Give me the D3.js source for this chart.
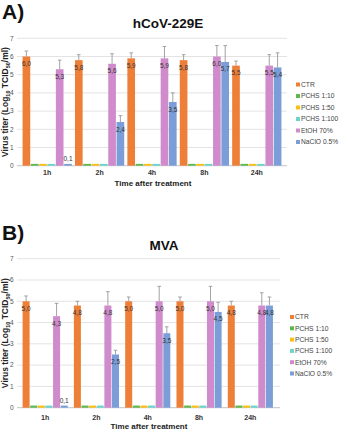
<!DOCTYPE html>
<html>
<head>
<meta charset="utf-8">
<script src="https://cdn.jsdelivr.net/npm/d3@7/dist/d3.min.js"></script>
<style>
  body { margin: 0; background: #fff; }
  svg { display: block; font-family: "Liberation Sans", Arial, sans-serif; }
</style>
</head>
<body>
<svg id="chart" width="339" height="429"></svg>
<script>
// categories and series
const timePoints = ['1h', '2h', '4h', '8h', '24h'];
const treatments = ['CTR', 'PCHS 1:10', 'PCHS 1:50', 'PCHS 1:100', 'EtOH 70%', 'NaClO 0.5%'];
const treatmentColors = ['#EE7F38', '#5DB84E', '#F9BF15', '#6AD4CF', '#CF8BCB', '#7B9ED8'];
const yTicks = [0, 1, 2, 3, 4, 5, 6, 7];
// which series get a value label
const labelled = [true, false, false, false, true, true];

// A) hCoV-229E, one row per treatment
const hcovValues = [
  [6.0, 5.8, 5.9, 5.8, 5.5],
  [0.1, 0.1, 0.1, 0.1, 0.1],
  [0.1, 0.1, 0.1, 0.1, 0.1],
  [0.1, 0.1, 0.1, 0.1, 0.1],
  [5.3, 5.6, 5.9, 6.0, 5.5],
  [0.1, 2.4, 3.5, 5.7, 5.4]
];
const hcovErrors = [
  [0.3, 0.3, 0.3, 0.3, 0.25],
  [0, 0, 0, 0, 0],
  [0, 0, 0, 0, 0],
  [0, 0, 0, 0, 0],
  [0.5, 0.55, 0.65, 0.6, 0.6],
  [0, 0.35, 0.5, 0.9, 0.8]
];

// B) MVA
const mvaValues = [
  [5.0, 4.8, 5.0, 5.0, 4.8],
  [0.1, 0.1, 0.1, 0.1, 0.1],
  [0.1, 0.1, 0.1, 0.1, 0.1],
  [0.1, 0.1, 0.1, 0.1, 0.1],
  [4.3, 4.8, 5.0, 5.0, 4.8],
  [0.1, 2.5, 3.5, 4.5, 4.8]
];
const mvaErrors = [
  [0.25, 0.2, 0.2, 0.2, 0.2],
  [0, 0, 0, 0, 0],
  [0, 0, 0, 0, 0],
  [0, 0, 0, 0, 0],
  [0.6, 0.65, 0.7, 0.7, 0.6],
  [0, 0.2, 0.3, 0.45, 0.4]
];

const svg = d3.select('#chart');
const fmt = v => d3.format('.1f')(v).replace('.', ',');

var drawPanel = function (p) {
  const g = svg.append('g');

  const y = d3.scaleLinear().domain([0, 7]).range([p.bottom, p.top]);
  const x0 = d3.scaleBand().domain(timePoints)
    .range([p.left, p.right]).paddingInner(p.groupPad).paddingOuter(p.groupPad / 2);
  const x1 = d3.scaleBand().domain(d3.range(treatments.length))
    .range([0, x0.bandwidth()]).paddingInner(p.barPad);

  // panel letter and title
  g.append('text').attr('x', 2).attr('y', p.letterY)
    .attr('font-size', 21).attr('font-weight', 'bold').attr('fill', '#111')
    .text(p.letter);
  g.append('text').attr('x', p.titleX).attr('y', p.titleY)
    .attr('text-anchor', 'middle').attr('font-size', 13.5).attr('font-weight', 'bold')
    .attr('fill', '#111').text(p.title);

  // grid + y ticks
  g.selectAll('.grid').data(yTicks).enter().append('line')
    .attr('x1', 17).attr('x2', p.gridEnd)
    .attr('y1', d => y(d)).attr('y2', d => y(d))
    .attr('stroke', d => d === 0 ? '#c4c4c4' : '#e3e3e3').attr('stroke-width', 1);
  g.selectAll('.ytick').data(yTicks).enter().append('text')
    .attr('x', 13.5).attr('y', d => y(d) + 2.3)
    .attr('text-anchor', 'end').attr('font-size', 6.5).attr('fill', '#555')
    .text(d => d);

  // y axis title
  const yt = g.append('text')
    .attr('transform', 'translate(8,' + ((p.top + p.bottom) / 2) + ') rotate(-90)')
    .attr('text-anchor', 'middle').attr('font-size', 8.5).attr('font-weight', 'bold').attr('fill', '#222');
  yt.append('tspan').text('Virus titer (Log');
  yt.append('tspan').attr('font-size', 5.5).attr('dy', 2).text('10');
  yt.append('tspan').attr('dy', -2).text(' TCID');
  yt.append('tspan').attr('font-size', 5.5).attr('dy', 2).text('50');
  yt.append('tspan').attr('dy', -2).text('/ml)');

  // bars
  const cells = [];
  treatments.forEach((t, si) => {
    timePoints.forEach((tp, ti) => {
      cells.push({ si: si, tp: tp, v: p.values[si][ti], e: p.errors[si][ti] });
    });
  });
  const bx = d => x0(d.tp) + x1(d.si);
  const bw = x1.bandwidth();

  g.selectAll('.bar').data(cells).enter().append('rect')
    .attr('x', bx).attr('width', bw)
    .attr('y', d => y(d.v)).attr('height', d => y(0) - y(d.v))
    .attr('fill', d => treatmentColors[d.si]);

  // error bars
  const errs = cells.filter(d => d.e > 0);
  g.selectAll('.err').data(errs).enter().append('line')
    .attr('x1', d => bx(d) + bw / 2).attr('x2', d => bx(d) + bw / 2)
    .attr('y1', d => y(d.v)).attr('y2', d => y(d.v + d.e))
    .attr('stroke', '#999').attr('stroke-width', 0.9);
  g.selectAll('.cap').data(errs).enter().append('line')
    .attr('x1', d => bx(d) + bw / 2 - 1.8).attr('x2', d => bx(d) + bw / 2 + 1.8)
    .attr('y1', d => y(d.v + d.e)).attr('y2', d => y(d.v + d.e))
    .attr('stroke', '#999').attr('stroke-width', 0.9);

  // value labels
  g.selectAll('.lbl').data(cells.filter(d => labelled[d.si])).enter().append('text')
    .attr('x', d => bx(d) + bw / 2)
    .attr('y', d => d.v < 0.5 ? y(d.v) - 2.5 : y(d.v) + 9.5)
    .attr('text-anchor', 'middle').attr('font-size', 6.5).attr('fill', '#333')
    .text(d => fmt(d.v));

  // category labels
  g.selectAll('.xlab').data(timePoints).enter().append('text')
    .attr('x', d => x0(d) + x0.bandwidth() / 2).attr('y', p.xLabelY)
    .attr('text-anchor', 'middle').attr('font-size', 7).attr('font-weight', 'bold').attr('fill', '#333')
    .text(d => d);
  g.append('text').attr('x', p.axisTitleX).attr('y', p.axisTitleY)
    .attr('text-anchor', 'middle').attr('font-size', 8).attr('font-weight', 'bold').attr('fill', '#222')
    .text('Time after treatment');

  // legend
  const leg = g.selectAll('.leg').data(treatments).enter().append('g')
    .attr('transform', (d, i) => 'translate(' + p.legX + ',' + (p.legY + i * p.legStep) + ')');
  leg.append('rect').attr('x', 0).attr('y', -2).attr('width', 4).attr('height', 4)
    .attr('fill', (d, i) => treatmentColors[i]);
  leg.append('text').attr('x', 5).attr('y', 2.4)
    .attr('font-size', 6.7).attr('fill', '#444').text(d => d);
};

drawPanel({
  letter: 'A)', letterY: 19, title: 'hCoV-229E', titleX: 168, titleY: 28,
  top: 38.3, bottom: 165.7, left: 21, right: 283, gridEnd: 287,
  groupPad: 0.06, barPad: 0.08,
  values: hcovValues, errors: hcovErrors,
  xLabelY: 175, axisTitleX: 153, axisTitleY: 186,
  legX: 296, legY: 84.5, legStep: 11.5
});

drawPanel({
  letter: 'B)', letterY: 240, title: 'MVA', titleX: 164, titleY: 250,
  top: 258.7, bottom: 407.7, left: 19.5, right: 276, gridEnd: 280,
  groupPad: 0.12, barPad: 0.08,
  values: mvaValues, errors: mvaErrors,
  xLabelY: 420, axisTitleX: 149, axisTitleY: 428.5,
  legX: 290, legY: 317, legStep: 11.3
});
</script>
</body>
</html>
